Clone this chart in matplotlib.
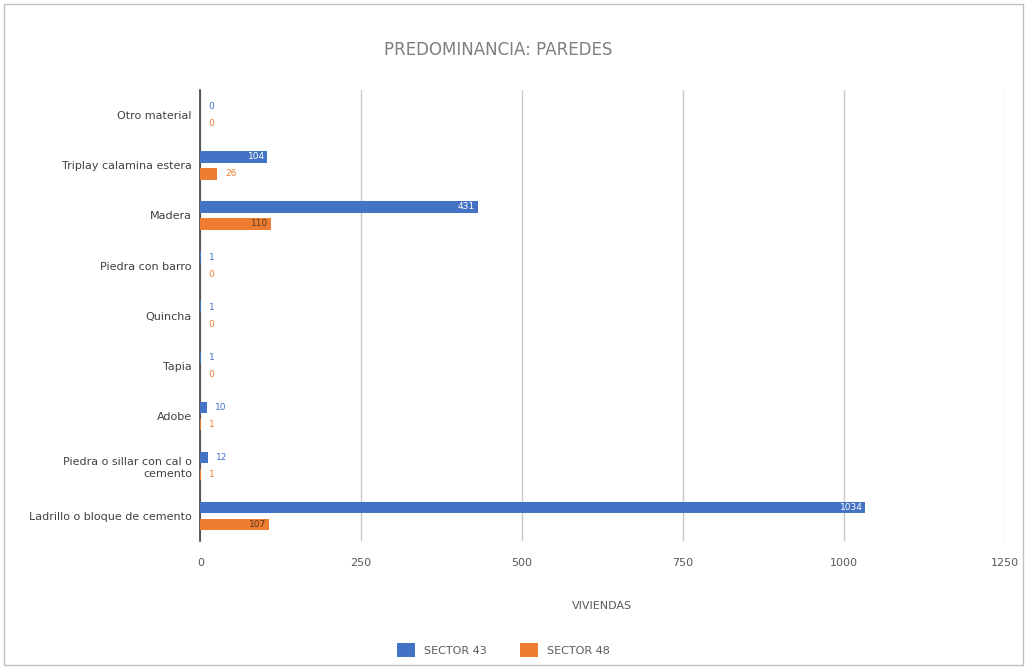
import numpy as np
import matplotlib.pyplot as plt

categorias = ["Otro material", "Triplay calamina estera", "Madera", "Piedra con barro",
              "Quincha", "Tapia", "Adobe", "Piedra o sillar con cal o\ncemento",
              "Ladrillo o bloque de cemento"]
sector43 = [0, 104, 431, 1, 1, 1, 10, 12, 1034]
sector48 = [0, 26, 110, 0, 0, 0, 1, 1, 107]
ticks_x = [0, 250, 500, 750, 1000, 1250]

azul = "#4472C4"
naranja = "#ED7D31"

fig = plt.figure(figsize=(10.27, 6.68), dpi=100)
ax = fig.add_axes([0.195, 0.19, 0.783, 0.675])

y = np.arange(len(categorias))
h = 0.23
off = 0.17
b43 = ax.barh(y - off, sector43, height=h, color=azul, label="SECTOR 43", zorder=3)
b48 = ax.barh(y + off, sector48, height=h, color=naranja, label="SECTOR 48", zorder=3)

# etiquetas de valor: dentro de la barra si es larga, fuera si es corta
for barras, vals, col_in, col_out in [(b43, sector43, "white", azul), (b48, sector48, "#5a3a20", naranja)]:
    for rect, v in zip(barras, vals):
        yc = rect.get_y() + rect.get_height() / 2
        if v > 60:
            ax.text(v - 4, yc, str(v), ha="right", va="center", fontsize=6.5, color=col_in, zorder=4)
        else:
            ax.text(v + 13, yc, str(v), ha="left", va="center", fontsize=6.5, color=col_out, zorder=4)

ax.set_xlim(0, 1250)
ax.set_ylim(len(categorias) - 0.5, -0.5)
ax.set_xticks(ticks_x)
ax.set_xticklabels([str(t) for t in ticks_x], fontsize=8, color="#595959")
ax.tick_params(axis="both", length=0, pad=12)
ax.set_yticks(y)
ax.set_yticklabels(categorias, fontsize=8, color="#404040")
ax.tick_params(axis="y", pad=6)
ax.grid(axis="x", color="#c8c8c8", linewidth=1, zorder=0)
for s in ["top", "right", "bottom"]:
    ax.spines[s].set_visible(False)
ax.spines["left"].set_color("#404040")
ax.spines["left"].set_linewidth(1.2)

ax.set_xlabel("VIVIENDAS", fontsize=8, color="#595959", labelpad=24)
fig.text(0.485, 0.925, "PREDOMINANCIA: PAREDES", ha="center", va="center", fontsize=12, color="#7f7f7f")

fig.legend(handles=[b43, b48], loc="center", bbox_to_anchor=(0.49, 0.027), ncol=2,
           frameon=False, fontsize=8, handlelength=1.6, handleheight=1.6, columnspacing=3,
           labelcolor="#595959")

# marco exterior
fig.patches.append(plt.Rectangle((0.004, 0.004), 0.992, 0.99, transform=fig.transFigure,
                                 fill=False, edgecolor="#bfbfbf", linewidth=1))

fig.savefig("out.png", dpi=100)
